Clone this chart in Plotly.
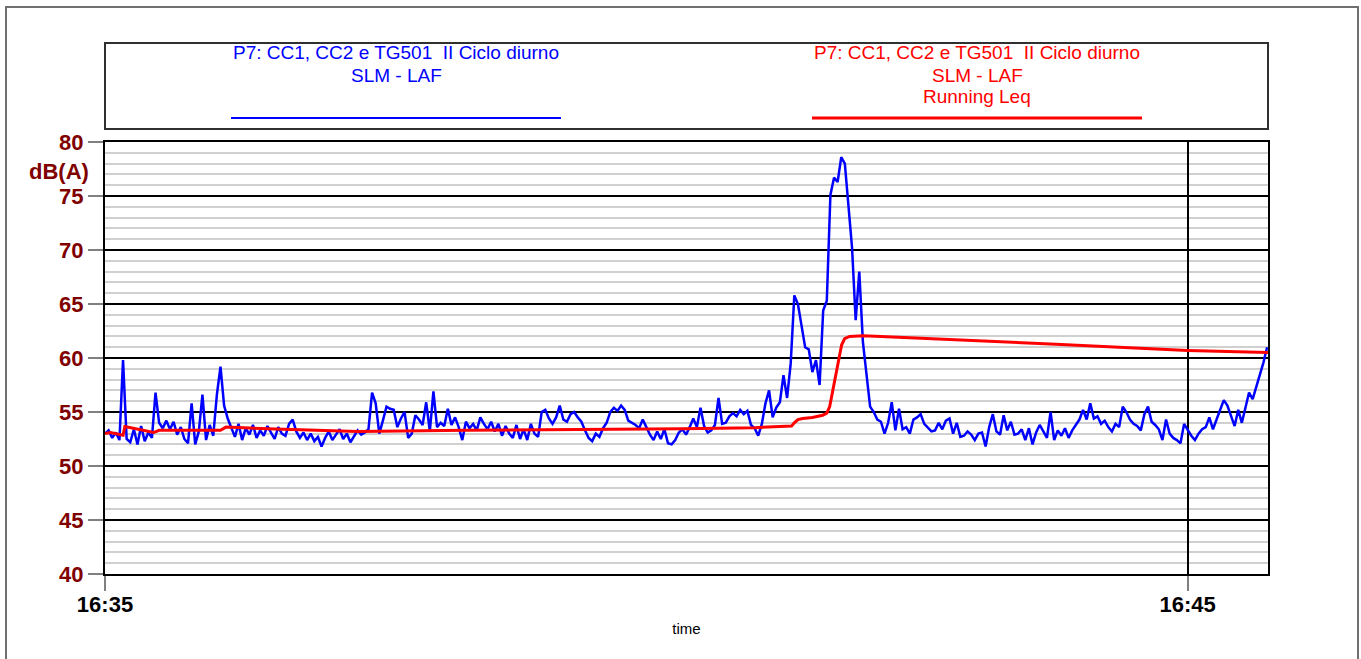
import numpy as np
import pandas as pd
import plotly.graph_objects as go

# ---- data -------------------------------------------------------------
start = pd.Timestamp("2021-06-15 16:35:00")
end_offset_s = 644.5          # last sample of the record (s after start)
step_s = 2                    # LAF sampling step (s)

# SLM - LAF level, dB(A), one value every 2 s from 16:35:00
laf = [
    53.0, 53.3, 52.6, 53.1, 52.4, 59.8, 52.5, 52.2, 53.4, 52.0,
    53.7, 52.3, 53.1, 52.6, 56.8, 54.0, 53.5, 54.2, 53.4, 54.1,
    52.9, 53.6, 52.5, 52.1, 55.8, 52.0, 53.2, 56.6, 52.4, 53.8,
    52.8, 56.6, 59.2, 55.6, 54.4, 53.6, 52.7, 53.9, 52.4, 53.5,
    52.9, 53.8, 52.6, 53.3, 52.8, 53.7, 53.1, 52.5, 53.6, 53.0,
    52.8, 53.9, 54.3, 53.2, 52.6,
    53.1, 52.4, 53.0, 52.3, 52.7, 51.8, 52.6, 53.2, 52.4, 52.9,
    53.4, 52.5, 53.0, 52.2, 52.8, 53.3, 52.9, 53.1, 53.4,
    56.8, 55.8, 53.0, 54.2, 55.5, 55.3, 55.2, 53.6, 54.4, 55.0,
    52.6, 53.0, 54.7, 54.3, 53.8, 55.9, 53.2, 56.9, 53.6, 54.0,
    53.7, 55.3, 53.8, 54.5, 53.6, 52.4, 54.1, 53.5, 53.9, 53.3,
    54.5, 53.9, 53.4,
    54.1, 53.2, 53.9, 52.8, 53.7, 53.0, 52.6, 53.8, 52.5, 53.4,
    52.4, 53.9, 53.0, 52.7,
    55.0, 55.2, 54.4, 53.9, 54.5, 55.6, 54.3, 54.1, 54.8, 55.0,
    54.5, 54.1, 53.3, 52.6, 52.3, 53.0, 52.7, 53.5, 54.0, 55.0,
    55.4, 55.1, 55.6, 55.2, 54.2, 54.0, 53.8, 53.5, 54.3, 53.6,
    52.9, 52.4, 53.2, 52.5, 53.4, 52.1, 52.0, 52.4, 53.1,
    53.4, 52.9, 53.6, 54.4, 53.6, 55.4, 53.7, 53.1, 53.3, 53.8,
    56.3, 53.9, 54.0, 54.6, 54.9, 54.6, 55.2, 54.8, 55.1, 53.8,
    53.5, 52.8, 53.9, 55.8, 57.0, 54.5, 55.4, 55.9,
    58.4, 56.3, 59.5, 65.8, 65.0, 62.9, 61.0, 60.8, 58.7, 59.8,
    57.5, 64.4, 65.3, 75.1, 76.7, 76.3, 78.6, 78.0, 73.8, 70.2,
    63.5, 68.0, 61.5, 58.2, 55.5,
    55.0, 54.3, 54.1, 53.0, 54.0, 55.9, 53.3, 55.3, 53.4, 53.6,
    53.0, 54.3, 54.5, 54.8, 53.9, 53.5, 53.2, 53.3, 54.0, 53.4,
    54.2, 54.4, 53.0, 54.0, 52.7, 52.8, 53.2, 52.9, 52.4, 53.0,
    53.1, 51.8, 53.6, 54.8, 53.2, 52.9, 54.7, 53.3, 54.1, 52.9,
    53.0, 53.4, 52.4, 53.5, 52.0, 53.1, 53.8, 53.2, 52.6, 55.0,
    52.4, 53.3, 52.8, 53.5, 52.6, 53.3, 53.8, 54.3, 55.2, 54.3,
    55.8, 54.4, 54.6, 53.9, 54.2, 53.6, 53.2, 53.9, 53.6, 55.5,
    55.0, 54.3, 53.9, 53.7, 53.3, 54.8, 55.5, 54.1, 53.8, 53.4,
    52.4, 54.3, 53.0, 52.6, 52.4, 52.1, 53.9, 53.3, 52.8, 52.4,
    53.0, 53.4, 53.6, 54.5, 53.4, 54.3, 55.2, 56.1, 55.6, 54.6,
    53.7, 55.2, 54.0, 55.4, 56.8, 56.2, 57.3, 58.5, 59.6, 61.0,
]

# Running Leq, dB(A): seconds after start and level
leq_s = [0, 3, 10, 11, 27, 30, 64, 67, 90, 140, 200, 260, 320, 360,
         380.5, 382, 384, 386.6, 392, 397.7, 400, 401.6, 405.4, 408.2,
         409.9, 412.6, 420, 430, 524, 600, 644.5]
leq = [53.0, 53.1, 52.85, 53.65, 53.1, 53.3, 53.3, 53.6, 53.45, 53.2,
       53.3, 53.35, 53.45, 53.55, 53.7, 54.0, 54.3, 54.4, 54.5, 54.7,
       54.9, 55.5, 58.9, 61.2, 61.8, 62.0, 62.05, 62.0, 61.3, 60.7, 60.5]

y_ticks = [40, 45, 50, 55, 60, 65, 70, 75, 80]
x_tick_offsets_s = [0, 600]
x_tick_text = ["16:35", "16:45"]

legend_title = "P7: CC1, CC2 e TG501\u00a0\u00a0II Ciclo diurno"

# ---- geometry helpers (pixel -> paper) --------------------------------
FIG_W, FIG_H = 1361, 659
PL, PR, PT, PB = 105, 1268, 142, 574   # plot-area edges in pixels
PW, PH = PR - PL, PB - PT


def px(x):
    return (x - PL) / PW


def py(y):
    return (PB - y) / PH


t_laf = start + pd.to_timedelta(np.arange(len(laf)) * step_s, unit="s")
t_leq = start + pd.to_timedelta(leq_s, unit="s")

BLUE = "#0000FF"
RED = "#FF0000"
DARKRED = "#800000"
FONT = "Arial, Liberation Sans, sans-serif"

fig = go.Figure()
fig.add_trace(go.Scatter(x=t_laf, y=laf, mode="lines",
                         line=dict(color=BLUE, width=2.5), showlegend=False,
                         hoverinfo="skip"))
fig.add_trace(go.Scatter(x=t_leq, y=leq, mode="lines",
                         line=dict(color=RED, width=3), showlegend=False,
                         hoverinfo="skip"))

shapes = [
    # outer frame
    dict(type="rect", xref="paper", yref="paper",
         x0=px(6), x1=px(1358), y0=py(668), y1=py(7),
         line=dict(color="#707070", width=2), layer="below"),
    # legend box
    dict(type="rect", xref="paper", yref="paper",
         x0=px(105), x1=px(1268), y0=py(129), y1=py(43),
         line=dict(color="#303030", width=2)),
    # legend line samples
    dict(type="line", xref="paper", yref="paper",
         x0=px(231), x1=px(561), y0=py(118), y1=py(118),
         line=dict(color=BLUE, width=2)),
    dict(type="line", xref="paper", yref="paper",
         x0=px(812), x1=px(1142), y0=py(118), y1=py(118),
         line=dict(color=RED, width=3)),
]

annotations = []
for cx, color, lines in [
    (396, BLUE, [legend_title, "SLM - LAF"]),
    (977, RED, [legend_title, "SLM - LAF", "Running Leq"]),
]:
    for i, txt in enumerate(lines):
        annotations.append(dict(
            text=txt, xref="paper", yref="paper", x=px(cx), y=py(53 + 22 * i),
            xanchor="center", yanchor="middle", showarrow=False,
            font=dict(family=FONT, size=19, color=color)))

annotations.append(dict(
    text="<b>dB(A)</b>", xref="paper", yref="paper", x=px(91), y=py(171),
    xanchor="right", yanchor="middle", showarrow=False,
    font=dict(family=FONT, size=22, color=DARKRED)))

fig.update_layout(
    width=FIG_W, height=FIG_H,
    margin=dict(l=PL, r=FIG_W - PR, t=PT, b=FIG_H - PB),
    paper_bgcolor="white", plot_bgcolor="white",
    shapes=shapes, annotations=annotations,
    xaxis=dict(
        type="date",
        range=[start, start + pd.Timedelta(seconds=end_offset_s)],
        tickvals=[start + pd.Timedelta(seconds=s) for s in x_tick_offsets_s],
        ticktext=[f"<b>{t}</b>" for t in x_tick_text],
        tickfont=dict(family=FONT, size=22, color="black"),
        ticks="outside", ticklen=15, tickwidth=2, tickcolor="#808080",
        ticklabelstandoff=-5,
        showgrid=True, gridcolor="black", gridwidth=1.5,
        showline=True, linecolor="black", linewidth=2, mirror=True,
        zeroline=False, automargin=False,
        title=dict(text="time", standoff=7,
                   font=dict(family=FONT, size=15, color="black")),
    ),
    yaxis=dict(
        range=[40, 80],
        tickvals=y_ticks,
        ticktext=[f"<b>{v}</b>" for v in y_ticks],
        tickfont=dict(family=FONT, size=22, color=DARKRED),
        ticks="outside", ticklen=15, tickwidth=2, tickcolor="#808080",
        showgrid=True, gridcolor="black", gridwidth=1.5,
        minor=dict(dtick=1, showgrid=True, gridcolor="#d0d0d0",
                   gridwidth=1.5, ticks=""),
        showline=True, linecolor="black", linewidth=2, mirror=True,
        zeroline=False, automargin=False,
    ),
)

fig.write_html("out.html")
